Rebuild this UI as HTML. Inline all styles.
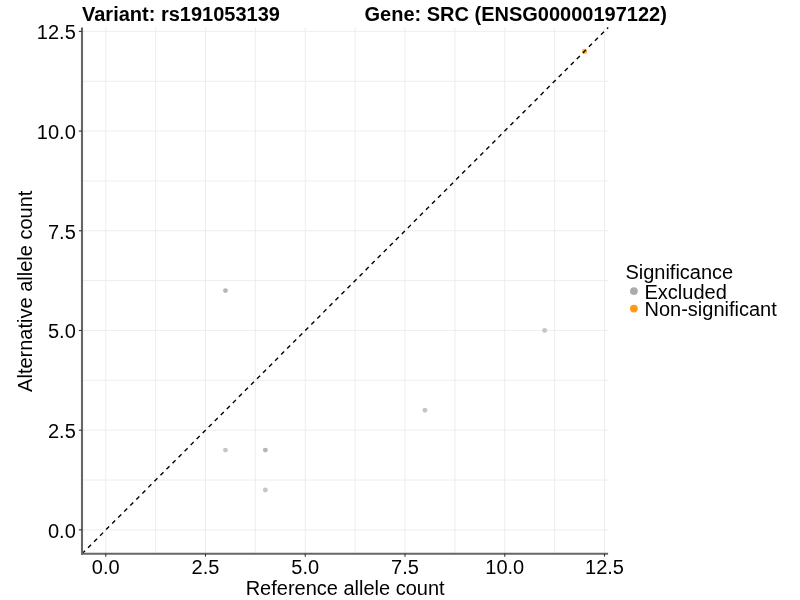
<!DOCTYPE html><html><head><meta charset="utf-8"><style>html,body{margin:0;padding:0;background:#fff;width:800px;height:600px;overflow:hidden}svg{display:block;will-change:transform}text{font-family:"Liberation Sans",sans-serif}</style></head><body>
<svg width="800" height="600" viewBox="0 0 800 600">
<rect width="800" height="600" fill="#fff"/>
<g stroke="#EBEBEB" stroke-width="0.9"><line x1="105.75" y1="27.38" x2="105.75" y2="553.75"/><line x1="82.00" y1="529.87" x2="608.1" y2="529.87"/><line x1="155.62" y1="27.38" x2="155.62" y2="553.75"/><line x1="82.00" y1="480.02" x2="608.1" y2="480.02"/><line x1="205.50" y1="27.38" x2="205.50" y2="553.75"/><line x1="82.00" y1="430.17" x2="608.1" y2="430.17"/><line x1="255.38" y1="27.38" x2="255.38" y2="553.75"/><line x1="82.00" y1="380.32" x2="608.1" y2="380.32"/><line x1="305.25" y1="27.38" x2="305.25" y2="553.75"/><line x1="82.00" y1="330.47" x2="608.1" y2="330.47"/><line x1="355.12" y1="27.38" x2="355.12" y2="553.75"/><line x1="82.00" y1="280.62" x2="608.1" y2="280.62"/><line x1="405.00" y1="27.38" x2="405.00" y2="553.75"/><line x1="82.00" y1="230.77" x2="608.1" y2="230.77"/><line x1="454.88" y1="27.38" x2="454.88" y2="553.75"/><line x1="82.00" y1="180.92" x2="608.1" y2="180.92"/><line x1="504.75" y1="27.38" x2="504.75" y2="553.75"/><line x1="82.00" y1="131.07" x2="608.1" y2="131.07"/><line x1="554.62" y1="27.38" x2="554.62" y2="553.75"/><line x1="82.00" y1="81.22" x2="608.1" y2="81.22"/><line x1="604.50" y1="27.38" x2="604.50" y2="553.75"/><line x1="82.00" y1="31.37" x2="608.1" y2="31.37"/></g>
<circle cx="225.45" cy="290.59" r="2.45" fill="#B6B6B6"/>
<circle cx="225.45" cy="450.11" r="2.45" fill="#C6C6C6"/>
<circle cx="265.35" cy="450.11" r="2.45" fill="#B6B6B6"/>
<circle cx="265.35" cy="489.99" r="2.45" fill="#C6C6C6"/>
<circle cx="424.95" cy="410.23" r="2.45" fill="#C6C6C6"/>
<circle cx="544.65" cy="330.47" r="2.45" fill="#C6C6C6"/>
<circle cx="584.55" cy="51.31" r="2.55" fill="#FFAB3E"/>
<line x1="82.00" y1="553.75" x2="608.2" y2="27.55" stroke="#000" stroke-width="1.4" stroke-dasharray="4.267 4.267"/>
<g stroke="#666666" stroke-width="2.1">
<line x1="82.00" y1="27.5" x2="82.00" y2="554.75"/>
<line x1="81.00" y1="553.75" x2="608.1" y2="553.75"/>
</g><g stroke="#333" stroke-width="1.1">
<line x1="78.90" y1="529.87" x2="82.00" y2="529.87"/>
<line x1="105.75" y1="553.75" x2="105.75" y2="556.65"/>
<line x1="78.90" y1="430.17" x2="82.00" y2="430.17"/>
<line x1="205.50" y1="553.75" x2="205.50" y2="556.65"/>
<line x1="78.90" y1="330.47" x2="82.00" y2="330.47"/>
<line x1="305.25" y1="553.75" x2="305.25" y2="556.65"/>
<line x1="78.90" y1="230.77" x2="82.00" y2="230.77"/>
<line x1="405.00" y1="553.75" x2="405.00" y2="556.65"/>
<line x1="78.90" y1="131.07" x2="82.00" y2="131.07"/>
<line x1="504.75" y1="553.75" x2="504.75" y2="556.65"/>
<line x1="78.90" y1="31.37" x2="82.00" y2="31.37"/>
<line x1="604.50" y1="553.75" x2="604.50" y2="556.65"/>
</g>
<text x="75.8" y="537.67" font-size="20" text-anchor="end" fill="#000">0.0</text>
<text x="105.75" y="574.2" font-size="20" text-anchor="middle" fill="#000">0.0</text>
<text x="75.8" y="437.97" font-size="20" text-anchor="end" fill="#000">2.5</text>
<text x="205.50" y="574.2" font-size="20" text-anchor="middle" fill="#000">2.5</text>
<text x="75.8" y="338.27" font-size="20" text-anchor="end" fill="#000">5.0</text>
<text x="305.25" y="574.2" font-size="20" text-anchor="middle" fill="#000">5.0</text>
<text x="75.8" y="238.57" font-size="20" text-anchor="end" fill="#000">7.5</text>
<text x="405.00" y="574.2" font-size="20" text-anchor="middle" fill="#000">7.5</text>
<text x="75.8" y="138.87" font-size="20" text-anchor="end" fill="#000">10.0</text>
<text x="504.75" y="574.2" font-size="20" text-anchor="middle" fill="#000">10.0</text>
<text x="75.8" y="39.17" font-size="20" text-anchor="end" fill="#000">12.5</text>
<text x="604.50" y="574.2" font-size="20" text-anchor="middle" fill="#000">12.5</text>
<text x="345.15" y="594.5" font-size="20" text-anchor="middle" fill="#000">Reference allele count</text>
<text transform="translate(32 291.29) rotate(-90)" font-size="20" text-anchor="middle" fill="#000">Alternative allele count</text>
<text x="82" y="21" font-size="20" font-weight="bold" fill="#000">Variant: rs191053139</text><text x="364.5" y="21" font-size="20" font-weight="bold" fill="#000">Gene: SRC (ENSG00000197122)</text>
<text x="625.4" y="279" font-size="20" fill="#000">Significance</text>
<circle cx="633.9" cy="291.1" r="3.9" fill="#ABABAB"/>
<circle cx="633.9" cy="308.6" r="3.9" fill="#FF9A14"/>
<text x="644.5" y="298.5" font-size="20" fill="#000">Excluded</text>
<text x="644.5" y="315.7" font-size="20" fill="#000">Non-significant</text>
</svg></body></html>
